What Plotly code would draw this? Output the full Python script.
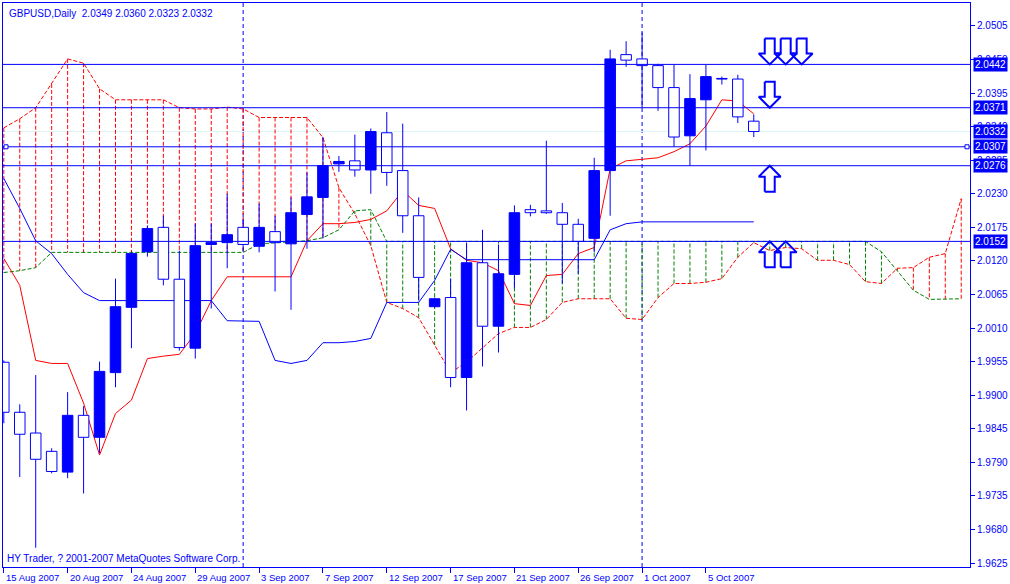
import plotly.graph_objects as go

# ---------------- data ----------------
TITLE = "GBPUSD,Daily  2.0349 2.0360 2.0323 2.0332"
COPYRIGHT = "HY Trader, ? 2001-2007 MetaQuotes Software Corp."

# bar index of each date label (one bar per trading day, Sunday bars included)
TICK_BARS = [0, 4, 8, 12, 16, 20, 24, 28, 32, 36, 40, 44]
TICK_LABELS = ["15 Aug 2007", "20 Aug 2007", "24 Aug 2007", "29 Aug 2007",
               "3 Sep 2007", "7 Sep 2007", "12 Sep 2007", "17 Sep 2007",
               "21 Sep 2007", "26 Sep 2007", "1 Oct 2007", "5 Oct 2007"]
SEPARATOR_BARS = [15, 40]   # first bars of September / October

OPEN = [1.9954, 1.9872, 1.9838, 1.9808, 1.9774, 1.9867, 1.9831, 1.9937, 2.0044, 2.0135,
        2.0175, 2.0090, 1.9977, 2.0147, 2.0150, 2.0175, 2.0144, 2.0168, 2.0148, 2.0196,
        2.0224, 2.0279, 2.0284, 2.0269, 2.0330, 2.0268, 2.0194, 2.0045, 2.0060, 1.9929,
        2.0117, 2.0013, 2.0098, 2.0204, 2.0202, 2.0199, 2.0180, 2.0157, 2.0268, 2.0458,
        2.0451, 2.0440, 2.0404, 2.0325, 2.0384, 2.0418, 2.0418, 2.0349]
HIGH = [1.9957, 1.9885, 1.9933, 1.9813, 1.9905, 1.9882, 1.9955, 2.0091, 2.0135, 2.0178,
        2.0194, 2.0137, 2.0181, 2.0181, 2.0230, 2.0189, 2.0214, 2.0194, 2.0224, 2.0265,
        2.0323, 2.0292, 2.0327, 2.0337, 2.0364, 2.0345, 2.0224, 2.0060, 2.0091, 2.0150,
        2.0171, 2.0147, 2.0211, 2.0212, 2.0317, 2.0215, 2.0189, 2.0289, 2.0466, 2.0480,
        2.0494, 2.0443, 2.0441, 2.0426, 2.0441, 2.0422, 2.0425, 2.0360]
LOW = [1.9854, 1.9766, 1.9650, 1.9772, 1.9764, 1.9739, 1.9805, 1.9913, 1.9977, 2.0127,
       2.0080, 1.9973, 1.9960, 2.0042, 2.0108, 2.0137, 2.0134, 2.0070, 2.0040, 2.0140,
       2.0157, 2.0266, 2.0258, 2.0230, 2.0243, 2.0166, 2.0055, 2.0043, 1.9913, 1.9875,
       1.9947, 1.9970, 2.0075, 2.0193, 2.0197, 2.0083, 2.0099, 2.0134, 2.0194, 2.0438,
       2.0371, 2.0366, 2.0307, 2.0276, 2.0301, 2.0409, 2.0346, 2.0323]
CLOSE = [1.9872, 1.9836, 1.9795, 1.9775, 1.9867, 1.9831, 1.9939, 2.0045, 2.0132, 2.0173,
         2.0090, 1.9978, 2.0145, 2.0150, 2.0163, 2.0147, 2.0175, 2.0150, 2.0199, 2.0225,
         2.0276, 2.0283, 2.0269, 2.0332, 2.0265, 2.0194, 2.0093, 2.0058, 1.9929, 2.0117,
         2.0013, 2.0099, 2.0199, 2.0199, 2.0199, 2.0180, 2.0152, 2.0268, 2.0451, 2.0449,
         2.0440, 2.0404, 2.0323, 2.0386, 2.0422, 2.0419, 2.0356, 2.0332]

TENKAN = [2.0124, 2.0080, 1.9957, 1.9952, 1.9952, 1.9887, 1.9802, 1.9870, 1.9892, 1.9960,
          1.9964, 1.9967, 2.0001, 2.0055, 2.0094, 2.0094, 2.0094, 2.0094, 2.0094, 2.0153,
          2.0181, 2.0181, 2.0183, 2.0188, 2.0202, 2.0235, 2.0211, 2.0206, 2.0140, 2.0121,
          2.0117, 2.0104, 2.0050, 2.0047, 2.0096, 2.0098, 2.0132, 2.0142, 2.0271, 2.0284,
          2.0287, 2.0289, 2.0299, 2.0312, 2.0341, 2.0384, 2.0382, 2.0361]
KIJUN = [2.0255, 2.0206, 2.0153, 2.0132, 2.0098, 2.0068, 2.0055, 2.0055, 2.0055, 2.0055,
         2.0055, 2.0055, 2.0055, 2.0055, 2.0022, 2.0021, 2.0021, 1.9957, 1.9952, 1.9957,
         1.9986, 1.9986, 1.9988, 1.9993, 2.0052, 2.0052, 2.0052, 2.0088, 2.0139, 2.0122,
         2.0122, 2.0122, 2.0122, 2.0122, 2.0122, 2.0122, 2.0122, 2.0122, 2.0171, 2.0181,
         2.0184, 2.0184, 2.0184, 2.0184, 2.0184, 2.0184, 2.0184, 2.0184]
SPAN_A = [2.0338, 2.0353, 2.0371, 2.0410, 2.0451, 2.0444, 2.0402, 2.0384, 2.0384, 2.0384,
          2.0384, 2.0371, 2.0369, 2.0369, 2.0372, 2.0369, 2.0355, 2.0355, 2.0355, 2.0355,
          2.0322, 2.0240, 2.0197, 2.0145, 2.0052, 2.0042, 2.0027, 1.9982, 1.9937, 1.9954,
          1.9978, 2.0001, 2.0011, 2.0011, 2.0024, 2.0052, 2.0058, 2.0058, 2.0058, 2.0026,
          2.0024, 2.0060, 2.0083, 2.0083, 2.0085, 2.0091, 2.0126, 2.0150, 2.0137, 2.0142,
          2.0140, 2.0121, 2.0121, 2.0114, 2.0086, 2.0083, 2.0108, 2.0109, 2.0126, 2.0132,
          2.0222]
SPAN_B = [2.0101, 2.0104, 2.0109, 2.0134, 2.0134, 2.0134, 2.0134, 2.0134, 2.0134, 2.0134,
          2.0134, 2.0134, 2.0134, 2.0134, 2.0134, 2.0134, 2.0148, 2.0150, 2.0152, 2.0153,
          2.0158, 2.0171, 2.0202, 2.0204, 2.0152, 2.0152, 2.0152, 2.0152, 2.0152, 2.0152,
          2.0152, 2.0152, 2.0152, 2.0152, 2.0152, 2.0152, 2.0152, 2.0152, 2.0152, 2.0152,
          2.0152, 2.0152, 2.0152, 2.0152, 2.0152, 2.0152, 2.0152, 2.0152, 2.0152, 2.0152,
          2.0152, 2.0152, 2.0152, 2.0152, 2.0152, 2.0135, 2.0104, 2.0072, 2.0057, 2.0057,
          2.0058]

HLINES = [2.0442, 2.0371, 2.0307, 2.0276, 2.0152]
BID = 2.0332
SELECTED_LINE = 2.0307
PRICE_TAGS = ["2.0442", "2.0371", "2.0332", "2.0307", "2.0276", "2.0152"]
Y_TICKS = ["1.9625", "1.9680", "1.9735", "1.9790", "1.9845", "1.9900", "1.9955", "2.0010",
           "2.0065", "2.0120", "2.0175", "2.0230", "2.0285", "2.0340", "2.0395", "2.0450",
           "2.0505"]
# arrow objects: (bar, price at the tip, direction)
ARROWS = [(48, 2.0442, "down"), (49, 2.0442, "down"), (50, 2.0442, "down"),
          (48, 2.0371, "down"), (48, 2.0276, "up"), (48, 2.0152, "up"), (49, 2.0152, "up")]

# ---------------- style / geometry ----------------
BLUE = "#0000FF"
RED = "#FF0000"
GREEN = "#008000"
FONT = "Liberation Sans"
W, H = 1010, 584
M = dict(l=2, r=38, t=2, b=17)
XR = [-0.05, 60.55]
YR = [1.96185, 2.05426]
PX_PER_BAR = (W - M["l"] - M["r"]) / (XR[1] - XR[0])
PX_PER_PRICE = (H - M["t"] - M["b"]) / (YR[1] - YR[0])

fig = go.Figure()

# light bid line (background)
fig.add_trace(go.Scatter(x=XR, y=[BID, BID], mode="lines",
                         line=dict(color="#DCF5F5", width=1)))

# cloud hatching
hx_r, hy_r, hx_g, hy_g = [], [], [], []
for i, (a, b) in enumerate(zip(SPAN_A, SPAN_B)):
    if a >= b:
        hx_r += [i, i, None]; hy_r += [a, b, None]
    else:
        hx_g += [i, i, None]; hy_g += [a, b, None]
fig.add_trace(go.Scatter(x=hx_r, y=hy_r, mode="lines",
                         line=dict(color=RED, width=1, dash="4px,2px")))
fig.add_trace(go.Scatter(x=hx_g, y=hy_g, mode="lines",
                         line=dict(color=GREEN, width=1, dash="4px,2px")))
bars_all = list(range(len(SPAN_A)))
fig.add_trace(go.Scatter(x=bars_all, y=SPAN_A, mode="lines",
                         line=dict(color=RED, width=1, dash="4px,2px")))
fig.add_trace(go.Scatter(x=bars_all, y=SPAN_B, mode="lines",
                         line=dict(color=GREEN, width=1, dash="4px,2px")))
bars = list(range(len(CLOSE)))
fig.add_trace(go.Scatter(x=bars, y=TENKAN, mode="lines", line=dict(color=RED, width=1)))
fig.add_trace(go.Scatter(x=bars, y=KIJUN, mode="lines", line=dict(color=BLUE, width=1)))

# candles on an overlaid subplot (chart in foreground)
base = [min(o, c) for o, c in zip(OPEN, CLOSE)]
height = [max(abs(c - o), 0.00008) for o, c in zip(OPEN, CLOSE)]
fill = [BLUE if c >= o else "white" for o, c in zip(OPEN, CLOSE)]
fig.add_trace(go.Bar(x=bars, y=height, base=base, width=0.66,
                     marker=dict(color=fill, line=dict(color=BLUE, width=1)),
                     xaxis="x2", yaxis="y2"))
wx, wy = [], []
for i, (o, h, l, c) in enumerate(zip(OPEN, HIGH, LOW, CLOSE)):
    top, bot = max(o, c), min(o, c)
    if h > top:
        wx += [i, i, None]; wy += [h, top, None]
    if l < bot:
        wx += [i, i, None]; wy += [bot, l, None]
fig.add_trace(go.Scatter(x=wx, y=wy, mode="lines", line=dict(color=BLUE, width=1),
                         xaxis="x2", yaxis="y2"))

# horizontal line objects (foreground)
lx, ly = [], []
for p in HLINES:
    lx += [XR[0], XR[1], None]; ly += [p, p, None]
fig.add_trace(go.Scatter(x=lx, y=ly, mode="lines", line=dict(color=BLUE, width=1),
                         xaxis="x2", yaxis="y2"))

# hollow arrow objects
ARROW_SHAPE = [(-5, 26), (5, 26), (5, 11), (11, 11), (0, 0), (-11, 11), (-5, 11), (-5, 26)]
ax_, ay_ = [], []
for b, p, d in ARROWS:
    sgn = 1 if d == "down" else -1
    for dx, dy in ARROW_SHAPE:
        ax_.append(b + dx / PX_PER_BAR)
        ay_.append(p + sgn * dy / PX_PER_PRICE)
    ax_.append(None); ay_.append(None)
fig.add_trace(go.Scatter(x=ax_, y=ay_, mode="lines", line=dict(color=BLUE, width=2),
                         xaxis="x2", yaxis="y2"))

# shapes
shapes = []
for b in SEPARATOR_BARS:
    shapes.append(dict(type="line", xref="x", yref="paper", x0=b, x1=b, y0=0, y1=1,
                       line=dict(color=BLUE, width=1, dash="4px,3px"), layer="below"))
for xa in (0, 1):
    shapes.append(dict(type="rect", xref="paper", yref="y", xsizemode="pixel",
                       ysizemode="pixel", xanchor=xa, yanchor=SELECTED_LINE,
                       x0=(1 if xa == 0 else -5), x1=(5 if xa == 0 else -1), y0=-2, y1=2,
                       fillcolor="white", line=dict(color=BLUE, width=1)))

# annotations
ann = [
    dict(text=TITLE, xref="paper", yref="paper", x=0, y=1, xanchor="left", yanchor="top",
         xshift=4, yshift=-3, showarrow=False, font=dict(family=FONT, size=10, color=BLUE)),
    dict(text=COPYRIGHT, xref="paper", yref="paper", x=0, y=0, xanchor="left",
         yanchor="bottom", xshift=2, yshift=1, showarrow=False,
         font=dict(family=FONT, size=10, color=BLUE)),
]
for b, lab in zip(TICK_BARS, TICK_LABELS):
    ann.append(dict(text=lab, xref="x", yref="paper", x=b, y=0, xanchor="left",
                    yanchor="top", xshift=0, yshift=-3, showarrow=False,
                    font=dict(family=FONT, size=9.5, color=BLUE)))
for t in PRICE_TAGS:
    ann.append(dict(text=t, xref="paper", yref="y", x=1, y=float(t), xanchor="left",
                    yanchor="middle", xshift=3, showarrow=False, bgcolor=BLUE, borderpad=1,
                    font=dict(family=FONT, size=10, color="white")))

fig.update_layout(
    width=W, height=H, margin=M, paper_bgcolor="white", plot_bgcolor="white",
    showlegend=False, shapes=shapes, annotations=ann, hovermode=False,
    xaxis=dict(range=XR, showgrid=False, zeroline=False, showline=True, linecolor=BLUE,
               linewidth=1, mirror=True, ticks="outside", ticklen=5, tickcolor=BLUE,
               tickvals=TICK_BARS, showticklabels=False, fixedrange=True),
    yaxis=dict(range=YR, side="right", showgrid=False, zeroline=False, showline=True,
               linecolor=BLUE, linewidth=1, mirror=True, ticks="outside", ticklen=4,
               tickcolor=BLUE, tickvals=[float(t) for t in Y_TICKS], ticktext=Y_TICKS,
               tickfont=dict(family=FONT, size=10, color=BLUE), fixedrange=True),
    xaxis2=dict(range=XR, overlaying="x", anchor="y2", visible=False, fixedrange=True),
    yaxis2=dict(range=YR, overlaying="y", anchor="x2", side="right", visible=False,
                fixedrange=True),
)

fig.write_html("out.html", config={"displayModeBar": False, "staticPlot": True},
               post_script="document.body.style.margin='0';document.body.style.overflow='hidden';")
